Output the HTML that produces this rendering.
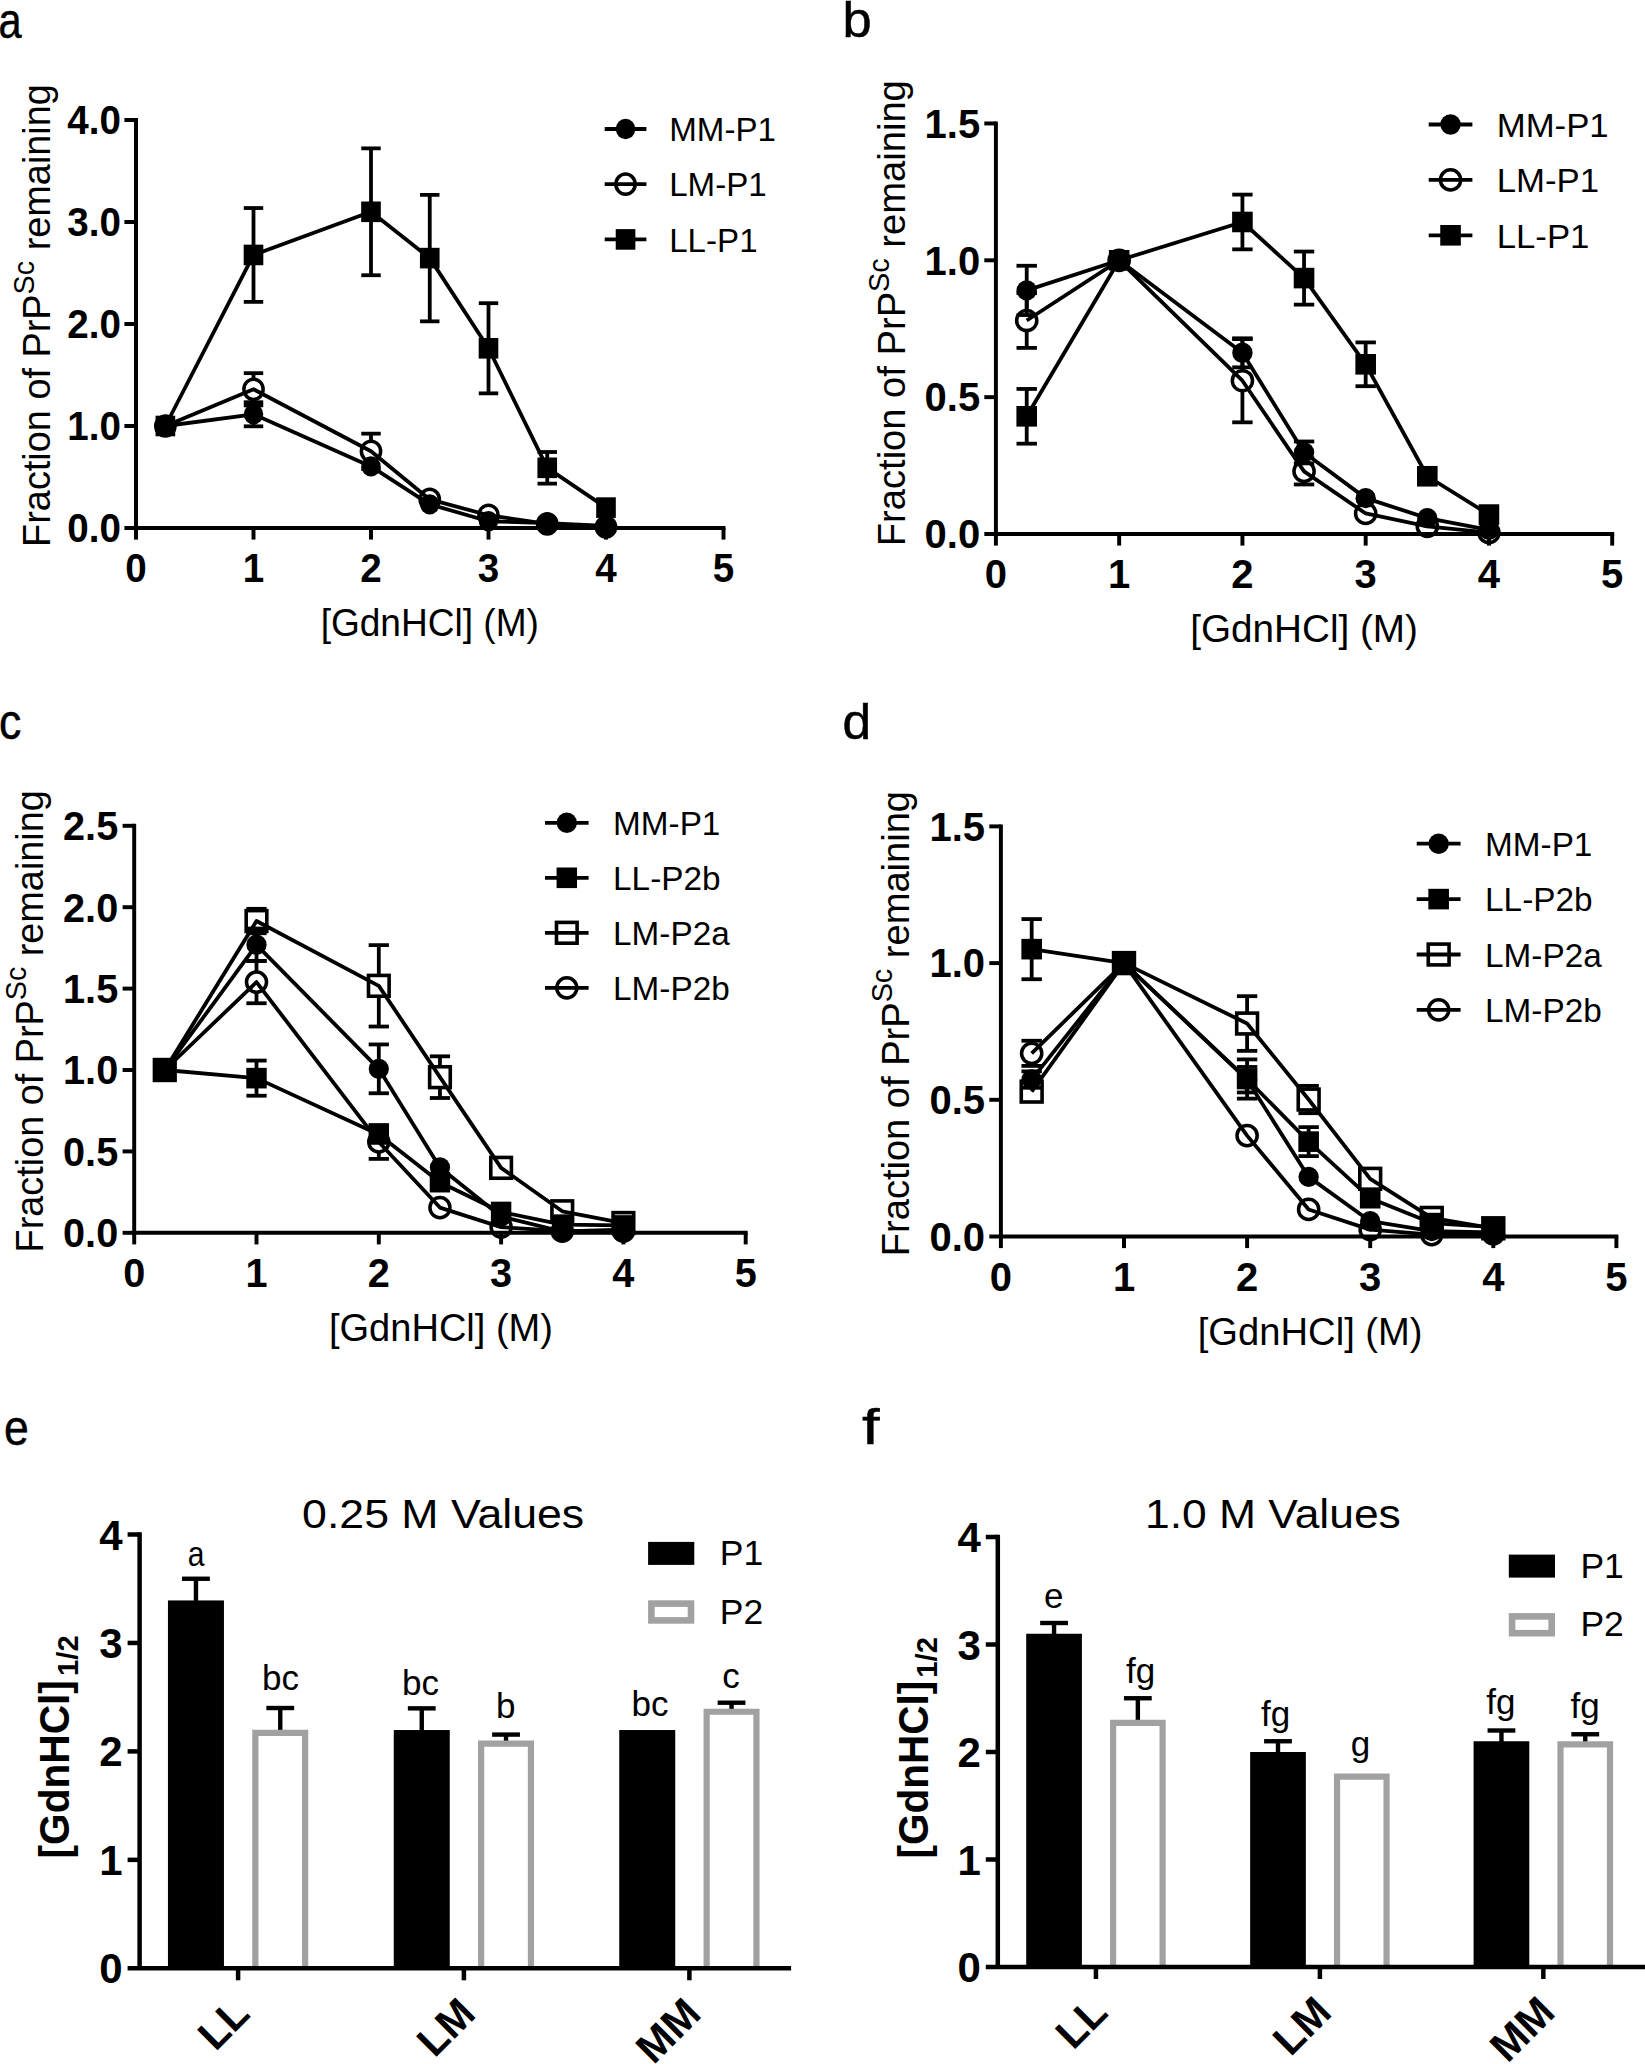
<!DOCTYPE html>
<html lang="en"><head><meta charset="utf-8"><title>Figure: GdnHCl stability of PrPSc</title>
<style>html,body{margin:0;padding:0;background:#fff;overflow:hidden}svg{display:block}text{font-family:"Liberation Sans", sans-serif;fill:#000}</style></head><body>
<svg width="1645" height="2064" viewBox="0 0 1645 2064">
<rect width="1645" height="2064" fill="#fff"/>
<g id="panel-a">
<path d="M165.38 426 L253.5 414.27 L371 466.39 L429.75 504.34 L488.5 521.27 L547.25 523.1 L606 525.96" fill="none" stroke="#000" stroke-width="3.8" stroke-linejoin="round"/>
<line x1="253.5" y1="402.23" x2="253.5" y2="426.31" stroke="#000" stroke-width="3.8"/>
<line x1="243.78" y1="402.23" x2="263.22" y2="402.23" stroke="#000" stroke-width="3.8"/>
<line x1="243.78" y1="426.31" x2="263.22" y2="426.31" stroke="#000" stroke-width="3.8"/>
<ellipse cx="165.38" cy="426" rx="9.72" ry="10.2" fill="#000"/>
<ellipse cx="253.5" cy="414.27" rx="9.72" ry="10.2" fill="#000"/>
<ellipse cx="371" cy="466.39" rx="9.72" ry="10.2" fill="#000"/>
<ellipse cx="429.75" cy="504.34" rx="9.72" ry="10.2" fill="#000"/>
<ellipse cx="488.5" cy="521.27" rx="9.72" ry="10.2" fill="#000"/>
<ellipse cx="547.25" cy="523.1" rx="9.72" ry="10.2" fill="#000"/>
<ellipse cx="606" cy="525.96" rx="9.72" ry="10.2" fill="#000"/>
<path d="M165.38 426 L253.5 389.28 L371 451.3 L429.75 499.44 L488.5 515.25 L547.25 523.92 L606 526.98" fill="none" stroke="#000" stroke-width="3.8" stroke-linejoin="round"/>
<line x1="253.5" y1="373.16" x2="253.5" y2="379.08" stroke="#000" stroke-width="3.8"/>
<line x1="253.5" y1="399.48" x2="253.5" y2="405.4" stroke="#000" stroke-width="3.8"/>
<line x1="243.78" y1="373.16" x2="263.22" y2="373.16" stroke="#000" stroke-width="3.8"/>
<line x1="243.78" y1="405.4" x2="263.22" y2="405.4" stroke="#000" stroke-width="3.8"/>
<line x1="371" y1="433.65" x2="371" y2="441.1" stroke="#000" stroke-width="3.8"/>
<line x1="371" y1="461.5" x2="371" y2="468.94" stroke="#000" stroke-width="3.8"/>
<line x1="361.28" y1="433.65" x2="380.72" y2="433.65" stroke="#000" stroke-width="3.8"/>
<line x1="361.28" y1="468.94" x2="380.72" y2="468.94" stroke="#000" stroke-width="3.8"/>
<ellipse cx="165.38" cy="426" rx="9.63" ry="10.1" fill="none" stroke="#000" stroke-width="3.5"/>
<ellipse cx="253.5" cy="389.28" rx="9.63" ry="10.1" fill="none" stroke="#000" stroke-width="3.5"/>
<ellipse cx="371" cy="451.3" rx="9.63" ry="10.1" fill="none" stroke="#000" stroke-width="3.5"/>
<ellipse cx="429.75" cy="499.44" rx="9.63" ry="10.1" fill="none" stroke="#000" stroke-width="3.5"/>
<ellipse cx="488.5" cy="515.25" rx="9.63" ry="10.1" fill="none" stroke="#000" stroke-width="3.5"/>
<ellipse cx="547.25" cy="523.92" rx="9.63" ry="10.1" fill="none" stroke="#000" stroke-width="3.5"/>
<ellipse cx="606" cy="526.98" rx="9.63" ry="10.1" fill="none" stroke="#000" stroke-width="3.5"/>
<path d="M165.38 426 L253.5 254.95 L371 211.8 L429.75 258.11 L488.5 348.28 L547.25 467.82 L606 507.6" fill="none" stroke="#000" stroke-width="3.8" stroke-linejoin="round"/>
<line x1="253.5" y1="208.03" x2="253.5" y2="301.87" stroke="#000" stroke-width="3.8"/>
<line x1="243.78" y1="208.03" x2="263.22" y2="208.03" stroke="#000" stroke-width="3.8"/>
<line x1="243.78" y1="301.87" x2="263.22" y2="301.87" stroke="#000" stroke-width="3.8"/>
<line x1="371" y1="148.36" x2="371" y2="275.24" stroke="#000" stroke-width="3.8"/>
<line x1="361.28" y1="148.36" x2="380.72" y2="148.36" stroke="#000" stroke-width="3.8"/>
<line x1="361.28" y1="275.24" x2="380.72" y2="275.24" stroke="#000" stroke-width="3.8"/>
<line x1="429.75" y1="194.87" x2="429.75" y2="321.35" stroke="#000" stroke-width="3.8"/>
<line x1="420.03" y1="194.87" x2="439.47" y2="194.87" stroke="#000" stroke-width="3.8"/>
<line x1="420.03" y1="321.35" x2="439.47" y2="321.35" stroke="#000" stroke-width="3.8"/>
<line x1="488.5" y1="303.19" x2="488.5" y2="393.36" stroke="#000" stroke-width="3.8"/>
<line x1="478.78" y1="303.19" x2="498.22" y2="303.19" stroke="#000" stroke-width="3.8"/>
<line x1="478.78" y1="393.36" x2="498.22" y2="393.36" stroke="#000" stroke-width="3.8"/>
<line x1="547.25" y1="452.01" x2="547.25" y2="483.63" stroke="#000" stroke-width="3.8"/>
<line x1="537.53" y1="452.01" x2="556.97" y2="452.01" stroke="#000" stroke-width="3.8"/>
<line x1="537.53" y1="483.63" x2="556.97" y2="483.63" stroke="#000" stroke-width="3.8"/>
<rect x="155.56" y="415.7" width="19.63" height="20.6" fill="#000"/>
<rect x="243.68" y="244.65" width="19.63" height="20.6" fill="#000"/>
<rect x="361.18" y="201.5" width="19.63" height="20.6" fill="#000"/>
<rect x="419.93" y="247.81" width="19.63" height="20.6" fill="#000"/>
<rect x="478.68" y="337.98" width="19.63" height="20.6" fill="#000"/>
<rect x="537.43" y="457.52" width="19.63" height="20.6" fill="#000"/>
<rect x="596.18" y="497.3" width="19.63" height="20.6" fill="#000"/>
<path d="M136 120 V528 H723.5" fill="none" stroke="#000" stroke-width="3.95" stroke-linecap="square" stroke-linejoin="miter"/>
<line x1="124.4" y1="528" x2="137.97" y2="528" stroke="#000" stroke-width="3.95"/>
<text transform="translate(121 542.3) scale(0.9650 1)" text-anchor="end" style='font-size:40px;font-weight:bold'>0.0</text>
<line x1="124.4" y1="426" x2="136" y2="426" stroke="#000" stroke-width="3.95"/>
<text transform="translate(121 440.3) scale(0.9650 1)" text-anchor="end" style='font-size:40px;font-weight:bold'>1.0</text>
<line x1="124.4" y1="324" x2="136" y2="324" stroke="#000" stroke-width="3.95"/>
<text transform="translate(121 338.3) scale(0.9650 1)" text-anchor="end" style='font-size:40px;font-weight:bold'>2.0</text>
<line x1="124.4" y1="222" x2="136" y2="222" stroke="#000" stroke-width="3.95"/>
<text transform="translate(121 236.3) scale(0.9650 1)" text-anchor="end" style='font-size:40px;font-weight:bold'>3.0</text>
<line x1="124.4" y1="120" x2="136" y2="120" stroke="#000" stroke-width="3.95"/>
<text transform="translate(121 134.3) scale(0.9650 1)" text-anchor="end" style='font-size:40px;font-weight:bold'>4.0</text>
<line x1="136" y1="528" x2="136" y2="539.6" stroke="#000" stroke-width="3.95"/>
<text transform="translate(136 582.4) scale(0.9650 1)" text-anchor="middle" style='font-size:40px;font-weight:bold'>0</text>
<line x1="253.5" y1="528" x2="253.5" y2="539.6" stroke="#000" stroke-width="3.95"/>
<text transform="translate(253.5 582.4) scale(0.9650 1)" text-anchor="middle" style='font-size:40px;font-weight:bold'>1</text>
<line x1="371" y1="528" x2="371" y2="539.6" stroke="#000" stroke-width="3.95"/>
<text transform="translate(371 582.4) scale(0.9650 1)" text-anchor="middle" style='font-size:40px;font-weight:bold'>2</text>
<line x1="488.5" y1="528" x2="488.5" y2="539.6" stroke="#000" stroke-width="3.95"/>
<text transform="translate(488.5 582.4) scale(0.9650 1)" text-anchor="middle" style='font-size:40px;font-weight:bold'>3</text>
<line x1="606" y1="528" x2="606" y2="539.6" stroke="#000" stroke-width="3.95"/>
<text transform="translate(606 582.4) scale(0.9650 1)" text-anchor="middle" style='font-size:40px;font-weight:bold'>4</text>
<line x1="723.5" y1="528" x2="723.5" y2="539.6" stroke="#000" stroke-width="3.95"/>
<text transform="translate(723.5 582.4) scale(0.9650 1)" text-anchor="middle" style='font-size:40px;font-weight:bold'>5</text>
<text transform="translate(429.75 636.1) scale(0.9580 1)" text-anchor="middle" style='font-size:38.7px'>[GdnHCl] (M)</text>
<text transform="translate(50.3 315.5) rotate(-90) scale(0.9968 1)" text-anchor="middle" style='font-size:38px'>Fraction of PrP<tspan dy="-15.9" style="font-size:28.8px">Sc</tspan><tspan dy="15.9"> remaining</tspan></text>
<line x1="604.7" y1="129" x2="646.4" y2="129" stroke="#000" stroke-width="3.8"/>
<ellipse cx="625.55" cy="129" rx="9.72" ry="10.2" fill="#000"/>
<text transform="translate(669.2 141.2) scale(0.9950 1)" text-anchor="start" style='font-size:33.3px'>MM-P1</text>
<line x1="604.7" y1="184.2" x2="646.4" y2="184.2" stroke="#000" stroke-width="3.8"/>
<ellipse cx="625.55" cy="184.2" rx="9.63" ry="10.1" fill="none" stroke="#000" stroke-width="3.5"/>
<text transform="translate(669.2 196.4) scale(0.9950 1)" text-anchor="start" style='font-size:33.3px'>LM-P1</text>
<line x1="604.7" y1="239.4" x2="646.4" y2="239.4" stroke="#000" stroke-width="3.8"/>
<rect x="615.73" y="229.1" width="19.63" height="20.6" fill="#000"/>
<text transform="translate(669.2 251.6) scale(0.9950 1)" text-anchor="start" style='font-size:33.3px'>LL-P1</text>
</g>
<g id="panel-b">
<path d="M1026.71 290.41 L1119.16 260.3 L1242.42 352.81 L1304.05 452.44 L1365.68 498.15 L1427.31 518.13 L1488.94 529.89" fill="none" stroke="#000" stroke-width="3.8" stroke-linejoin="round"/>
<line x1="1026.71" y1="265.77" x2="1026.71" y2="315.04" stroke="#000" stroke-width="3.8"/>
<line x1="1016.51" y1="265.77" x2="1036.91" y2="265.77" stroke="#000" stroke-width="3.8"/>
<line x1="1016.51" y1="315.04" x2="1036.91" y2="315.04" stroke="#000" stroke-width="3.8"/>
<line x1="1242.42" y1="338.3" x2="1242.42" y2="367.32" stroke="#000" stroke-width="3.8"/>
<line x1="1232.22" y1="338.3" x2="1252.62" y2="338.3" stroke="#000" stroke-width="3.8"/>
<line x1="1232.22" y1="367.32" x2="1252.62" y2="367.32" stroke="#000" stroke-width="3.8"/>
<line x1="1304.05" y1="441.49" x2="1304.05" y2="463.39" stroke="#000" stroke-width="3.8"/>
<line x1="1293.85" y1="441.49" x2="1314.25" y2="441.49" stroke="#000" stroke-width="3.8"/>
<line x1="1293.85" y1="463.39" x2="1314.25" y2="463.39" stroke="#000" stroke-width="3.8"/>
<ellipse cx="1026.71" cy="290.41" rx="10.2" ry="10.2" fill="#000"/>
<ellipse cx="1119.16" cy="260.3" rx="10.2" ry="10.2" fill="#000"/>
<ellipse cx="1242.42" cy="352.81" rx="10.2" ry="10.2" fill="#000"/>
<ellipse cx="1304.05" cy="452.44" rx="10.2" ry="10.2" fill="#000"/>
<ellipse cx="1365.68" cy="498.15" rx="10.2" ry="10.2" fill="#000"/>
<ellipse cx="1427.31" cy="518.13" rx="10.2" ry="10.2" fill="#000"/>
<ellipse cx="1488.94" cy="529.89" rx="10.2" ry="10.2" fill="#000"/>
<path d="M1026.71 320.51 L1119.16 260.3 L1242.42 380.73 L1304.05 471.32 L1365.68 513.47 L1427.31 526.34 L1488.94 532.63" fill="none" stroke="#000" stroke-width="3.8" stroke-linejoin="round"/>
<line x1="1026.71" y1="293.14" x2="1026.71" y2="310.31" stroke="#000" stroke-width="3.8"/>
<line x1="1026.71" y1="330.71" x2="1026.71" y2="347.88" stroke="#000" stroke-width="3.8"/>
<line x1="1016.51" y1="293.14" x2="1036.91" y2="293.14" stroke="#000" stroke-width="3.8"/>
<line x1="1016.51" y1="347.88" x2="1036.91" y2="347.88" stroke="#000" stroke-width="3.8"/>
<line x1="1242.42" y1="339.13" x2="1242.42" y2="370.53" stroke="#000" stroke-width="3.8"/>
<line x1="1242.42" y1="390.93" x2="1242.42" y2="422.33" stroke="#000" stroke-width="3.8"/>
<line x1="1232.22" y1="339.13" x2="1252.62" y2="339.13" stroke="#000" stroke-width="3.8"/>
<line x1="1232.22" y1="422.33" x2="1252.62" y2="422.33" stroke="#000" stroke-width="3.8"/>
<line x1="1304.05" y1="458.19" x2="1304.05" y2="461.12" stroke="#000" stroke-width="3.8"/>
<line x1="1304.05" y1="481.52" x2="1304.05" y2="484.46" stroke="#000" stroke-width="3.8"/>
<line x1="1293.85" y1="458.19" x2="1314.25" y2="458.19" stroke="#000" stroke-width="3.8"/>
<line x1="1293.85" y1="484.46" x2="1314.25" y2="484.46" stroke="#000" stroke-width="3.8"/>
<ellipse cx="1026.71" cy="320.51" rx="10.1" ry="10.1" fill="none" stroke="#000" stroke-width="3.5"/>
<ellipse cx="1119.16" cy="260.3" rx="10.1" ry="10.1" fill="none" stroke="#000" stroke-width="3.5"/>
<ellipse cx="1242.42" cy="380.73" rx="10.1" ry="10.1" fill="none" stroke="#000" stroke-width="3.5"/>
<ellipse cx="1304.05" cy="471.32" rx="10.1" ry="10.1" fill="none" stroke="#000" stroke-width="3.5"/>
<ellipse cx="1365.68" cy="513.47" rx="10.1" ry="10.1" fill="none" stroke="#000" stroke-width="3.5"/>
<ellipse cx="1427.31" cy="526.34" rx="10.1" ry="10.1" fill="none" stroke="#000" stroke-width="3.5"/>
<ellipse cx="1488.94" cy="532.63" rx="10.1" ry="10.1" fill="none" stroke="#000" stroke-width="3.5"/>
<path d="M1026.71 416.31 L1119.16 260.3 L1242.42 221.98 L1304.05 278.09 L1365.68 364.31 L1427.31 476.25 L1488.94 514.57" fill="none" stroke="#000" stroke-width="3.8" stroke-linejoin="round"/>
<line x1="1026.71" y1="388.94" x2="1026.71" y2="443.68" stroke="#000" stroke-width="3.8"/>
<line x1="1016.51" y1="388.94" x2="1036.91" y2="388.94" stroke="#000" stroke-width="3.8"/>
<line x1="1016.51" y1="443.68" x2="1036.91" y2="443.68" stroke="#000" stroke-width="3.8"/>
<line x1="1242.42" y1="194.61" x2="1242.42" y2="249.35" stroke="#000" stroke-width="3.8"/>
<line x1="1232.22" y1="194.61" x2="1252.62" y2="194.61" stroke="#000" stroke-width="3.8"/>
<line x1="1232.22" y1="249.35" x2="1252.62" y2="249.35" stroke="#000" stroke-width="3.8"/>
<line x1="1304.05" y1="251.54" x2="1304.05" y2="304.64" stroke="#000" stroke-width="3.8"/>
<line x1="1293.85" y1="251.54" x2="1314.25" y2="251.54" stroke="#000" stroke-width="3.8"/>
<line x1="1293.85" y1="304.64" x2="1314.25" y2="304.64" stroke="#000" stroke-width="3.8"/>
<line x1="1365.68" y1="342.41" x2="1365.68" y2="386.2" stroke="#000" stroke-width="3.8"/>
<line x1="1355.48" y1="342.41" x2="1375.88" y2="342.41" stroke="#000" stroke-width="3.8"/>
<line x1="1355.48" y1="386.2" x2="1375.88" y2="386.2" stroke="#000" stroke-width="3.8"/>
<rect x="1016.41" y="406.01" width="20.6" height="20.6" fill="#000"/>
<rect x="1108.86" y="250" width="20.6" height="20.6" fill="#000"/>
<rect x="1232.12" y="211.68" width="20.6" height="20.6" fill="#000"/>
<rect x="1293.75" y="267.79" width="20.6" height="20.6" fill="#000"/>
<rect x="1355.38" y="354.01" width="20.6" height="20.6" fill="#000"/>
<rect x="1417.01" y="465.95" width="20.6" height="20.6" fill="#000"/>
<rect x="1478.64" y="504.27" width="20.6" height="20.6" fill="#000"/>
<path d="M995.9 123.45 V534 H1612.2" fill="none" stroke="#000" stroke-width="3.95" stroke-linecap="square" stroke-linejoin="miter"/>
<line x1="984.3" y1="534" x2="997.88" y2="534" stroke="#000" stroke-width="3.95"/>
<text transform="translate(980.2 548.3)" text-anchor="end" style='font-size:40px;font-weight:bold'>0.0</text>
<line x1="984.3" y1="397.15" x2="995.9" y2="397.15" stroke="#000" stroke-width="3.95"/>
<text transform="translate(980.2 411.45)" text-anchor="end" style='font-size:40px;font-weight:bold'>0.5</text>
<line x1="984.3" y1="260.3" x2="995.9" y2="260.3" stroke="#000" stroke-width="3.95"/>
<text transform="translate(980.2 274.6)" text-anchor="end" style='font-size:40px;font-weight:bold'>1.0</text>
<line x1="984.3" y1="123.45" x2="995.9" y2="123.45" stroke="#000" stroke-width="3.95"/>
<text transform="translate(980.2 137.75)" text-anchor="end" style='font-size:40px;font-weight:bold'>1.5</text>
<line x1="995.9" y1="534" x2="995.9" y2="545.6" stroke="#000" stroke-width="3.95"/>
<text transform="translate(995.9 588.4)" text-anchor="middle" style='font-size:40px;font-weight:bold'>0</text>
<line x1="1119.16" y1="534" x2="1119.16" y2="545.6" stroke="#000" stroke-width="3.95"/>
<text transform="translate(1119.16 588.4)" text-anchor="middle" style='font-size:40px;font-weight:bold'>1</text>
<line x1="1242.42" y1="534" x2="1242.42" y2="545.6" stroke="#000" stroke-width="3.95"/>
<text transform="translate(1242.42 588.4)" text-anchor="middle" style='font-size:40px;font-weight:bold'>2</text>
<line x1="1365.68" y1="534" x2="1365.68" y2="545.6" stroke="#000" stroke-width="3.95"/>
<text transform="translate(1365.68 588.4)" text-anchor="middle" style='font-size:40px;font-weight:bold'>3</text>
<line x1="1488.94" y1="534" x2="1488.94" y2="545.6" stroke="#000" stroke-width="3.95"/>
<text transform="translate(1488.94 588.4)" text-anchor="middle" style='font-size:40px;font-weight:bold'>4</text>
<line x1="1612.2" y1="534" x2="1612.2" y2="545.6" stroke="#000" stroke-width="3.95"/>
<text transform="translate(1612.2 588.4)" text-anchor="middle" style='font-size:40px;font-weight:bold'>5</text>
<text transform="translate(1304.05 642.1)" text-anchor="middle" style='font-size:38.7px'>[GdnHCl] (M)</text>
<text transform="translate(905.3 313.2) rotate(-90) scale(0.9859 1)" text-anchor="middle" style='font-size:38.7px'>Fraction of PrP<tspan dy="-16.2" style="font-size:29.3px">Sc</tspan><tspan dy="16.2"> remaining</tspan></text>
<line x1="1428.7" y1="124.5" x2="1472.4" y2="124.5" stroke="#000" stroke-width="3.8"/>
<ellipse cx="1450.55" cy="124.5" rx="10.2" ry="10.2" fill="#000"/>
<text transform="translate(1496.7 136.7) scale(1.0440 1)" text-anchor="start" style='font-size:33.3px'>MM-P1</text>
<line x1="1428.7" y1="179.9" x2="1472.4" y2="179.9" stroke="#000" stroke-width="3.8"/>
<ellipse cx="1450.55" cy="179.9" rx="10.1" ry="10.1" fill="none" stroke="#000" stroke-width="3.5"/>
<text transform="translate(1496.7 192.1) scale(1.0440 1)" text-anchor="start" style='font-size:33.3px'>LM-P1</text>
<line x1="1428.7" y1="235.3" x2="1472.4" y2="235.3" stroke="#000" stroke-width="3.8"/>
<rect x="1440.25" y="225" width="20.6" height="20.6" fill="#000"/>
<text transform="translate(1496.7 247.5) scale(1.0440 1)" text-anchor="start" style='font-size:33.3px'>LL-P1</text>
</g>
<g id="panel-c">
<path d="M164.77 1070 L256.5 944.81 L378.8 1068.86 L439.95 1167.52 L501.1 1216.52 L562.25 1231.5 L623.4 1229.54" fill="none" stroke="#000" stroke-width="3.8" stroke-linejoin="round"/>
<line x1="256.5" y1="928.53" x2="256.5" y2="961.09" stroke="#000" stroke-width="3.8"/>
<line x1="246.38" y1="928.53" x2="266.62" y2="928.53" stroke="#000" stroke-width="3.8"/>
<line x1="246.38" y1="961.09" x2="266.62" y2="961.09" stroke="#000" stroke-width="3.8"/>
<line x1="378.8" y1="1044.44" x2="378.8" y2="1093.28" stroke="#000" stroke-width="3.8"/>
<line x1="368.68" y1="1044.44" x2="388.92" y2="1044.44" stroke="#000" stroke-width="3.8"/>
<line x1="368.68" y1="1093.28" x2="388.92" y2="1093.28" stroke="#000" stroke-width="3.8"/>
<ellipse cx="164.77" cy="1070" rx="10.12" ry="10.2" fill="#000"/>
<ellipse cx="256.5" cy="944.81" rx="10.12" ry="10.2" fill="#000"/>
<ellipse cx="378.8" cy="1068.86" rx="10.12" ry="10.2" fill="#000"/>
<ellipse cx="439.95" cy="1167.52" rx="10.12" ry="10.2" fill="#000"/>
<ellipse cx="501.1" cy="1216.52" rx="10.12" ry="10.2" fill="#000"/>
<ellipse cx="562.25" cy="1231.5" rx="10.12" ry="10.2" fill="#000"/>
<ellipse cx="623.4" cy="1229.54" rx="10.12" ry="10.2" fill="#000"/>
<path d="M164.77 1070 L256.5 1078.14 L378.8 1134.47 L439.95 1182.17 L501.1 1211.96 L562.25 1224.66 L623.4 1225.47" fill="none" stroke="#000" stroke-width="3.8" stroke-linejoin="round"/>
<line x1="256.5" y1="1060.56" x2="256.5" y2="1095.72" stroke="#000" stroke-width="3.8"/>
<line x1="246.38" y1="1060.56" x2="266.62" y2="1060.56" stroke="#000" stroke-width="3.8"/>
<line x1="246.38" y1="1095.72" x2="266.62" y2="1095.72" stroke="#000" stroke-width="3.8"/>
<rect x="154.56" y="1059.7" width="20.44" height="20.6" fill="#000"/>
<rect x="246.28" y="1067.84" width="20.44" height="20.6" fill="#000"/>
<rect x="368.58" y="1124.17" width="20.44" height="20.6" fill="#000"/>
<rect x="429.73" y="1171.87" width="20.44" height="20.6" fill="#000"/>
<rect x="490.88" y="1201.66" width="20.44" height="20.6" fill="#000"/>
<rect x="552.03" y="1214.36" width="20.44" height="20.6" fill="#000"/>
<rect x="613.18" y="1215.17" width="20.44" height="20.6" fill="#000"/>
<path d="M164.77 1070 L256.5 921.04 L378.8 985.83 L439.95 1077.16 L501.1 1167.84 L562.25 1211.31 L623.4 1223.03" fill="none" stroke="#000" stroke-width="3.8" stroke-linejoin="round"/>
<line x1="256.5" y1="908.83" x2="256.5" y2="910.84" stroke="#000" stroke-width="3.8"/>
<line x1="256.5" y1="931.24" x2="256.5" y2="933.25" stroke="#000" stroke-width="3.8"/>
<line x1="246.38" y1="908.83" x2="266.62" y2="908.83" stroke="#000" stroke-width="3.8"/>
<line x1="246.38" y1="933.25" x2="266.62" y2="933.25" stroke="#000" stroke-width="3.8"/>
<line x1="378.8" y1="945.13" x2="378.8" y2="975.63" stroke="#000" stroke-width="3.8"/>
<line x1="378.8" y1="996.03" x2="378.8" y2="1026.53" stroke="#000" stroke-width="3.8"/>
<line x1="368.68" y1="945.13" x2="388.92" y2="945.13" stroke="#000" stroke-width="3.8"/>
<line x1="368.68" y1="1026.53" x2="388.92" y2="1026.53" stroke="#000" stroke-width="3.8"/>
<line x1="439.95" y1="1056.32" x2="439.95" y2="1066.96" stroke="#000" stroke-width="3.8"/>
<line x1="439.95" y1="1087.36" x2="439.95" y2="1098" stroke="#000" stroke-width="3.8"/>
<line x1="429.83" y1="1056.32" x2="450.07" y2="1056.32" stroke="#000" stroke-width="3.8"/>
<line x1="429.83" y1="1098" x2="450.07" y2="1098" stroke="#000" stroke-width="3.8"/>
<rect x="154.46" y="1059.6" width="20.63" height="20.8" fill="none" stroke="#000" stroke-width="3.6"/>
<rect x="246.18" y="910.64" width="20.63" height="20.8" fill="none" stroke="#000" stroke-width="3.6"/>
<rect x="368.48" y="975.43" width="20.63" height="20.8" fill="none" stroke="#000" stroke-width="3.6"/>
<rect x="429.63" y="1066.76" width="20.63" height="20.8" fill="none" stroke="#000" stroke-width="3.6"/>
<rect x="490.78" y="1157.44" width="20.63" height="20.8" fill="none" stroke="#000" stroke-width="3.6"/>
<rect x="551.93" y="1200.91" width="20.63" height="20.8" fill="none" stroke="#000" stroke-width="3.6"/>
<rect x="613.08" y="1212.63" width="20.63" height="20.8" fill="none" stroke="#000" stroke-width="3.6"/>
<path d="M164.77 1070 L256.5 982.09 L378.8 1141.96 L439.95 1207.57 L501.1 1227.1 L562.25 1231.17 L623.4 1231.17" fill="none" stroke="#000" stroke-width="3.8" stroke-linejoin="round"/>
<line x1="256.5" y1="960.92" x2="256.5" y2="971.89" stroke="#000" stroke-width="3.8"/>
<line x1="256.5" y1="992.29" x2="256.5" y2="1003.25" stroke="#000" stroke-width="3.8"/>
<line x1="246.38" y1="960.92" x2="266.62" y2="960.92" stroke="#000" stroke-width="3.8"/>
<line x1="246.38" y1="1003.25" x2="266.62" y2="1003.25" stroke="#000" stroke-width="3.8"/>
<line x1="378.8" y1="1125.03" x2="378.8" y2="1131.76" stroke="#000" stroke-width="3.8"/>
<line x1="378.8" y1="1152.16" x2="378.8" y2="1158.89" stroke="#000" stroke-width="3.8"/>
<line x1="368.68" y1="1125.03" x2="388.92" y2="1125.03" stroke="#000" stroke-width="3.8"/>
<line x1="368.68" y1="1158.89" x2="388.92" y2="1158.89" stroke="#000" stroke-width="3.8"/>
<ellipse cx="164.77" cy="1070" rx="10.02" ry="10.1" fill="none" stroke="#000" stroke-width="3.5"/>
<ellipse cx="256.5" cy="982.09" rx="10.02" ry="10.1" fill="none" stroke="#000" stroke-width="3.5"/>
<ellipse cx="378.8" cy="1141.96" rx="10.02" ry="10.1" fill="none" stroke="#000" stroke-width="3.5"/>
<ellipse cx="439.95" cy="1207.57" rx="10.02" ry="10.1" fill="none" stroke="#000" stroke-width="3.5"/>
<ellipse cx="501.1" cy="1227.1" rx="10.02" ry="10.1" fill="none" stroke="#000" stroke-width="3.5"/>
<ellipse cx="562.25" cy="1231.17" rx="10.02" ry="10.1" fill="none" stroke="#000" stroke-width="3.5"/>
<ellipse cx="623.4" cy="1231.17" rx="10.02" ry="10.1" fill="none" stroke="#000" stroke-width="3.5"/>
<path d="M134.2 825.8 V1232.8 H745.7" fill="none" stroke="#000" stroke-width="3.95" stroke-linecap="square" stroke-linejoin="miter"/>
<line x1="122.6" y1="1232.8" x2="136.17" y2="1232.8" stroke="#000" stroke-width="3.95"/>
<text transform="translate(118.2 1247.1) scale(0.9920 1)" text-anchor="end" style='font-size:40px;font-weight:bold'>0.0</text>
<line x1="122.6" y1="1151.4" x2="134.2" y2="1151.4" stroke="#000" stroke-width="3.95"/>
<text transform="translate(118.2 1165.7) scale(0.9920 1)" text-anchor="end" style='font-size:40px;font-weight:bold'>0.5</text>
<line x1="122.6" y1="1070" x2="134.2" y2="1070" stroke="#000" stroke-width="3.95"/>
<text transform="translate(118.2 1084.3) scale(0.9920 1)" text-anchor="end" style='font-size:40px;font-weight:bold'>1.0</text>
<line x1="122.6" y1="988.6" x2="134.2" y2="988.6" stroke="#000" stroke-width="3.95"/>
<text transform="translate(118.2 1002.9) scale(0.9920 1)" text-anchor="end" style='font-size:40px;font-weight:bold'>1.5</text>
<line x1="122.6" y1="907.2" x2="134.2" y2="907.2" stroke="#000" stroke-width="3.95"/>
<text transform="translate(118.2 921.5) scale(0.9920 1)" text-anchor="end" style='font-size:40px;font-weight:bold'>2.0</text>
<line x1="122.6" y1="825.8" x2="134.2" y2="825.8" stroke="#000" stroke-width="3.95"/>
<text transform="translate(118.2 840.1) scale(0.9920 1)" text-anchor="end" style='font-size:40px;font-weight:bold'>2.5</text>
<line x1="134.2" y1="1232.8" x2="134.2" y2="1244.4" stroke="#000" stroke-width="3.95"/>
<text transform="translate(134.2 1287.2) scale(0.9920 1)" text-anchor="middle" style='font-size:40px;font-weight:bold'>0</text>
<line x1="256.5" y1="1232.8" x2="256.5" y2="1244.4" stroke="#000" stroke-width="3.95"/>
<text transform="translate(256.5 1287.2) scale(0.9920 1)" text-anchor="middle" style='font-size:40px;font-weight:bold'>1</text>
<line x1="378.8" y1="1232.8" x2="378.8" y2="1244.4" stroke="#000" stroke-width="3.95"/>
<text transform="translate(378.8 1287.2) scale(0.9920 1)" text-anchor="middle" style='font-size:40px;font-weight:bold'>2</text>
<line x1="501.1" y1="1232.8" x2="501.1" y2="1244.4" stroke="#000" stroke-width="3.95"/>
<text transform="translate(501.1 1287.2) scale(0.9920 1)" text-anchor="middle" style='font-size:40px;font-weight:bold'>3</text>
<line x1="623.4" y1="1232.8" x2="623.4" y2="1244.4" stroke="#000" stroke-width="3.95"/>
<text transform="translate(623.4 1287.2) scale(0.9920 1)" text-anchor="middle" style='font-size:40px;font-weight:bold'>4</text>
<line x1="745.7" y1="1232.8" x2="745.7" y2="1244.4" stroke="#000" stroke-width="3.95"/>
<text transform="translate(745.7 1287.2) scale(0.9920 1)" text-anchor="middle" style='font-size:40px;font-weight:bold'>5</text>
<text transform="translate(440.95 1340.9) scale(0.9830 1)" text-anchor="middle" style='font-size:38.7px'>[GdnHCl] (M)</text>
<text transform="translate(43.4 1021.3) rotate(-90) scale(0.9775 1)" text-anchor="middle" style='font-size:38.7px'>Fraction of PrP<tspan dy="-17.5" style="font-size:29.3px">Sc</tspan><tspan dy="17.5"> remaining</tspan></text>
<line x1="545" y1="822.8" x2="588.6" y2="822.8" stroke="#000" stroke-width="3.8"/>
<ellipse cx="566.8" cy="822.8" rx="10.12" ry="10.2" fill="#000"/>
<text transform="translate(613.1 835)" text-anchor="start" style='font-size:33.3px'>MM-P1</text>
<line x1="545" y1="877.8" x2="588.6" y2="877.8" stroke="#000" stroke-width="3.8"/>
<rect x="556.58" y="867.5" width="20.44" height="20.6" fill="#000"/>
<text transform="translate(613.1 890)" text-anchor="start" style='font-size:33.3px'>LL-P2b</text>
<line x1="545" y1="932.8" x2="588.6" y2="932.8" stroke="#000" stroke-width="3.8"/>
<rect x="556.48" y="922.4" width="20.63" height="20.8" fill="none" stroke="#000" stroke-width="3.6"/>
<text transform="translate(613.1 945)" text-anchor="start" style='font-size:33.3px'>LM-P2a</text>
<line x1="545" y1="987.8" x2="588.6" y2="987.8" stroke="#000" stroke-width="3.8"/>
<ellipse cx="566.8" cy="987.8" rx="10.02" ry="10.1" fill="none" stroke="#000" stroke-width="3.5"/>
<text transform="translate(613.1 1000)" text-anchor="start" style='font-size:33.3px'>LM-P2b</text>
</g>
<g id="panel-d">
<path d="M1031.67 1079.57 L1124 963.1 L1247.1 1079.71 L1308.65 1176.9 L1370.2 1221.19 L1431.75 1231.03 L1493.3 1232.4" fill="none" stroke="#000" stroke-width="3.8" stroke-linejoin="round"/>
<line x1="1031.67" y1="1071.37" x2="1031.67" y2="1087.77" stroke="#000" stroke-width="3.8"/>
<line x1="1021.47" y1="1071.37" x2="1041.88" y2="1071.37" stroke="#000" stroke-width="3.8"/>
<line x1="1021.47" y1="1087.77" x2="1041.88" y2="1087.77" stroke="#000" stroke-width="3.8"/>
<line x1="1247.1" y1="1066.96" x2="1247.1" y2="1092.45" stroke="#000" stroke-width="3.8"/>
<line x1="1236.9" y1="1066.96" x2="1257.3" y2="1066.96" stroke="#000" stroke-width="3.8"/>
<line x1="1236.9" y1="1092.45" x2="1257.3" y2="1092.45" stroke="#000" stroke-width="3.8"/>
<ellipse cx="1031.67" cy="1079.57" rx="10.2" ry="10.2" fill="#000"/>
<ellipse cx="1124" cy="963.1" rx="10.2" ry="10.2" fill="#000"/>
<ellipse cx="1247.1" cy="1079.71" rx="10.2" ry="10.2" fill="#000"/>
<ellipse cx="1308.65" cy="1176.9" rx="10.2" ry="10.2" fill="#000"/>
<ellipse cx="1370.2" cy="1221.19" rx="10.2" ry="10.2" fill="#000"/>
<ellipse cx="1431.75" cy="1231.03" rx="10.2" ry="10.2" fill="#000"/>
<ellipse cx="1493.3" cy="1232.4" rx="10.2" ry="10.2" fill="#000"/>
<path d="M1031.67 949.16 L1124 963.1 L1247.1 1079.02 L1308.65 1141.63 L1370.2 1198.22 L1431.75 1223.1 L1493.3 1227.2" fill="none" stroke="#000" stroke-width="3.8" stroke-linejoin="round"/>
<line x1="1031.67" y1="919.08" x2="1031.67" y2="979.23" stroke="#000" stroke-width="3.8"/>
<line x1="1021.47" y1="919.08" x2="1041.88" y2="919.08" stroke="#000" stroke-width="3.8"/>
<line x1="1021.47" y1="979.23" x2="1041.88" y2="979.23" stroke="#000" stroke-width="3.8"/>
<line x1="1247.1" y1="1059.42" x2="1247.1" y2="1098.62" stroke="#000" stroke-width="3.8"/>
<line x1="1236.9" y1="1059.42" x2="1257.3" y2="1059.42" stroke="#000" stroke-width="3.8"/>
<line x1="1236.9" y1="1098.62" x2="1257.3" y2="1098.62" stroke="#000" stroke-width="3.8"/>
<line x1="1308.65" y1="1127.14" x2="1308.65" y2="1156.12" stroke="#000" stroke-width="3.8"/>
<line x1="1298.45" y1="1127.14" x2="1318.85" y2="1127.14" stroke="#000" stroke-width="3.8"/>
<line x1="1298.45" y1="1156.12" x2="1318.85" y2="1156.12" stroke="#000" stroke-width="3.8"/>
<rect x="1021.38" y="938.86" width="20.6" height="20.6" fill="#000"/>
<rect x="1113.7" y="952.8" width="20.6" height="20.6" fill="#000"/>
<rect x="1236.8" y="1068.72" width="20.6" height="20.6" fill="#000"/>
<rect x="1298.35" y="1131.33" width="20.6" height="20.6" fill="#000"/>
<rect x="1359.9" y="1187.92" width="20.6" height="20.6" fill="#000"/>
<rect x="1421.45" y="1212.8" width="20.6" height="20.6" fill="#000"/>
<rect x="1483" y="1216.9" width="20.6" height="20.6" fill="#000"/>
<path d="M1031.67 1091.6 L1124 963.1 L1247.1 1023.52 L1308.65 1099.53 L1370.2 1178.81 L1431.75 1217.91 L1493.3 1228.3" fill="none" stroke="#000" stroke-width="3.8" stroke-linejoin="round"/>
<line x1="1247.1" y1="996.18" x2="1247.1" y2="1013.32" stroke="#000" stroke-width="3.8"/>
<line x1="1247.1" y1="1033.72" x2="1247.1" y2="1050.86" stroke="#000" stroke-width="3.8"/>
<line x1="1236.9" y1="996.18" x2="1257.3" y2="996.18" stroke="#000" stroke-width="3.8"/>
<line x1="1236.9" y1="1050.86" x2="1257.3" y2="1050.86" stroke="#000" stroke-width="3.8"/>
<line x1="1308.65" y1="1085.86" x2="1308.65" y2="1089.33" stroke="#000" stroke-width="3.8"/>
<line x1="1308.65" y1="1109.73" x2="1308.65" y2="1113.2" stroke="#000" stroke-width="3.8"/>
<line x1="1298.45" y1="1085.86" x2="1318.85" y2="1085.86" stroke="#000" stroke-width="3.8"/>
<line x1="1298.45" y1="1113.2" x2="1318.85" y2="1113.2" stroke="#000" stroke-width="3.8"/>
<rect x="1021.27" y="1081.2" width="20.8" height="20.8" fill="none" stroke="#000" stroke-width="3.6"/>
<rect x="1113.6" y="952.7" width="20.8" height="20.8" fill="none" stroke="#000" stroke-width="3.6"/>
<rect x="1236.7" y="1013.12" width="20.8" height="20.8" fill="none" stroke="#000" stroke-width="3.6"/>
<rect x="1298.25" y="1089.13" width="20.8" height="20.8" fill="none" stroke="#000" stroke-width="3.6"/>
<rect x="1359.8" y="1168.41" width="20.8" height="20.8" fill="none" stroke="#000" stroke-width="3.6"/>
<rect x="1421.35" y="1207.51" width="20.8" height="20.8" fill="none" stroke="#000" stroke-width="3.6"/>
<rect x="1482.9" y="1217.9" width="20.8" height="20.8" fill="none" stroke="#000" stroke-width="3.6"/>
<path d="M1031.67 1053.32 L1124 963.1 L1247.1 1135.62 L1308.65 1209.43 L1370.2 1229.66 L1431.75 1234.59 L1493.3 1233.77" fill="none" stroke="#000" stroke-width="3.8" stroke-linejoin="round"/>
<line x1="1031.67" y1="1040.75" x2="1031.67" y2="1043.12" stroke="#000" stroke-width="3.8"/>
<line x1="1031.67" y1="1063.52" x2="1031.67" y2="1065.9" stroke="#000" stroke-width="3.8"/>
<line x1="1021.47" y1="1040.75" x2="1041.88" y2="1040.75" stroke="#000" stroke-width="3.8"/>
<line x1="1021.47" y1="1065.9" x2="1041.88" y2="1065.9" stroke="#000" stroke-width="3.8"/>
<ellipse cx="1031.67" cy="1053.32" rx="10.1" ry="10.1" fill="none" stroke="#000" stroke-width="3.5"/>
<ellipse cx="1124" cy="963.1" rx="10.1" ry="10.1" fill="none" stroke="#000" stroke-width="3.5"/>
<ellipse cx="1247.1" cy="1135.62" rx="10.1" ry="10.1" fill="none" stroke="#000" stroke-width="3.5"/>
<ellipse cx="1308.65" cy="1209.43" rx="10.1" ry="10.1" fill="none" stroke="#000" stroke-width="3.5"/>
<ellipse cx="1370.2" cy="1229.66" rx="10.1" ry="10.1" fill="none" stroke="#000" stroke-width="3.5"/>
<ellipse cx="1431.75" cy="1234.59" rx="10.1" ry="10.1" fill="none" stroke="#000" stroke-width="3.5"/>
<ellipse cx="1493.3" cy="1233.77" rx="10.1" ry="10.1" fill="none" stroke="#000" stroke-width="3.5"/>
<path d="M1000.9 826.4 V1236.5 H1616.4" fill="none" stroke="#000" stroke-width="3.95" stroke-linecap="square" stroke-linejoin="miter"/>
<line x1="989.3" y1="1236.5" x2="1002.88" y2="1236.5" stroke="#000" stroke-width="3.95"/>
<text transform="translate(985.1 1250.8)" text-anchor="end" style='font-size:40px;font-weight:bold'>0.0</text>
<line x1="989.3" y1="1099.8" x2="1000.9" y2="1099.8" stroke="#000" stroke-width="3.95"/>
<text transform="translate(985.1 1114.1)" text-anchor="end" style='font-size:40px;font-weight:bold'>0.5</text>
<line x1="989.3" y1="963.1" x2="1000.9" y2="963.1" stroke="#000" stroke-width="3.95"/>
<text transform="translate(985.1 977.4)" text-anchor="end" style='font-size:40px;font-weight:bold'>1.0</text>
<line x1="989.3" y1="826.4" x2="1000.9" y2="826.4" stroke="#000" stroke-width="3.95"/>
<text transform="translate(985.1 840.7)" text-anchor="end" style='font-size:40px;font-weight:bold'>1.5</text>
<line x1="1000.9" y1="1236.5" x2="1000.9" y2="1248.1" stroke="#000" stroke-width="3.95"/>
<text transform="translate(1000.9 1290.9)" text-anchor="middle" style='font-size:40px;font-weight:bold'>0</text>
<line x1="1124" y1="1236.5" x2="1124" y2="1248.1" stroke="#000" stroke-width="3.95"/>
<text transform="translate(1124 1290.9)" text-anchor="middle" style='font-size:40px;font-weight:bold'>1</text>
<line x1="1247.1" y1="1236.5" x2="1247.1" y2="1248.1" stroke="#000" stroke-width="3.95"/>
<text transform="translate(1247.1 1290.9)" text-anchor="middle" style='font-size:40px;font-weight:bold'>2</text>
<line x1="1370.2" y1="1236.5" x2="1370.2" y2="1248.1" stroke="#000" stroke-width="3.95"/>
<text transform="translate(1370.2 1290.9)" text-anchor="middle" style='font-size:40px;font-weight:bold'>3</text>
<line x1="1493.3" y1="1236.5" x2="1493.3" y2="1248.1" stroke="#000" stroke-width="3.95"/>
<text transform="translate(1493.3 1290.9)" text-anchor="middle" style='font-size:40px;font-weight:bold'>4</text>
<line x1="1616.4" y1="1236.5" x2="1616.4" y2="1248.1" stroke="#000" stroke-width="3.95"/>
<text transform="translate(1616.4 1290.9)" text-anchor="middle" style='font-size:40px;font-weight:bold'>5</text>
<text transform="translate(1310.15 1344.6) scale(0.9870 1)" text-anchor="middle" style='font-size:38.7px'>[GdnHCl] (M)</text>
<text transform="translate(909.3 1023.6) rotate(-90) scale(0.9842 1)" text-anchor="middle" style='font-size:38.7px'>Fraction of PrP<tspan dy="-17.2" style="font-size:29.3px">Sc</tspan><tspan dy="17.2"> remaining</tspan></text>
<line x1="1416.7" y1="843.7" x2="1460.6" y2="843.7" stroke="#000" stroke-width="3.8"/>
<ellipse cx="1438.65" cy="843.7" rx="10.2" ry="10.2" fill="#000"/>
<text transform="translate(1485.1 855.9)" text-anchor="start" style='font-size:33.3px'>MM-P1</text>
<line x1="1416.7" y1="899.1" x2="1460.6" y2="899.1" stroke="#000" stroke-width="3.8"/>
<rect x="1428.35" y="888.8" width="20.6" height="20.6" fill="#000"/>
<text transform="translate(1485.1 911.3)" text-anchor="start" style='font-size:33.3px'>LL-P2b</text>
<line x1="1416.7" y1="954.5" x2="1460.6" y2="954.5" stroke="#000" stroke-width="3.8"/>
<rect x="1428.25" y="944.1" width="20.8" height="20.8" fill="none" stroke="#000" stroke-width="3.6"/>
<text transform="translate(1485.1 966.7)" text-anchor="start" style='font-size:33.3px'>LM-P2a</text>
<line x1="1416.7" y1="1009.9" x2="1460.6" y2="1009.9" stroke="#000" stroke-width="3.8"/>
<ellipse cx="1438.65" cy="1009.9" rx="10.1" ry="10.1" fill="none" stroke="#000" stroke-width="3.5"/>
<text transform="translate(1485.1 1022.1)" text-anchor="start" style='font-size:33.3px'>LM-P2b</text>
</g>
<g id="panel-e">
<line x1="195.95" y1="1578.75" x2="195.95" y2="1601.44" stroke="#000" stroke-width="4.4"/>
<line x1="182.05" y1="1578.75" x2="209.85" y2="1578.75" stroke="#000" stroke-width="4.4"/>
<rect x="167.95" y="1600.44" width="56" height="367.86" fill="#000"/>
<line x1="280.25" y1="1708.02" x2="280.25" y2="1730.71" stroke="#000" stroke-width="4.4"/>
<line x1="266.35" y1="1708.02" x2="294.15" y2="1708.02" stroke="#000" stroke-width="4.4"/>
<path d="M255.35 1968.3 V1732.81 H305.15 V1968.3" fill="none" stroke="#a1a1a1" stroke-width="6.2"/>
<line x1="421.75" y1="1708.35" x2="421.75" y2="1731.04" stroke="#000" stroke-width="4.4"/>
<line x1="407.85" y1="1708.35" x2="435.65" y2="1708.35" stroke="#000" stroke-width="4.4"/>
<rect x="393.75" y="1730.04" width="56" height="238.26" fill="#000"/>
<line x1="506.05" y1="1734.59" x2="506.05" y2="1741.55" stroke="#000" stroke-width="4.4"/>
<line x1="492.15" y1="1734.59" x2="519.95" y2="1734.59" stroke="#000" stroke-width="4.4"/>
<path d="M481.15 1968.3 V1743.65 H530.95 V1968.3" fill="none" stroke="#a1a1a1" stroke-width="6.2"/>
<rect x="619.25" y="1730.04" width="56" height="238.26" fill="#000"/>
<line x1="731.55" y1="1702.71" x2="731.55" y2="1709.67" stroke="#000" stroke-width="4.4"/>
<line x1="717.65" y1="1702.71" x2="745.45" y2="1702.71" stroke="#000" stroke-width="4.4"/>
<path d="M706.65 1968.3 V1711.77 H756.45 V1968.3" fill="none" stroke="#a1a1a1" stroke-width="6.2"/>
<line x1="139.6" y1="1532.25" x2="139.6" y2="1968.3" stroke="#000" stroke-width="4.5"/>
<line x1="127.6" y1="1968.3" x2="791.1" y2="1968.3" stroke="#000" stroke-width="4.5"/>
<text transform="translate(122.6 1983.3)" text-anchor="end" style='font-size:42px;font-weight:bold'>0</text>
<line x1="127.6" y1="1859.85" x2="139.6" y2="1859.85" stroke="#000" stroke-width="4.5"/>
<text transform="translate(122.6 1874.85)" text-anchor="end" style='font-size:42px;font-weight:bold'>1</text>
<line x1="127.6" y1="1751.4" x2="139.6" y2="1751.4" stroke="#000" stroke-width="4.5"/>
<text transform="translate(122.6 1766.4)" text-anchor="end" style='font-size:42px;font-weight:bold'>2</text>
<line x1="127.6" y1="1642.95" x2="139.6" y2="1642.95" stroke="#000" stroke-width="4.5"/>
<text transform="translate(122.6 1657.95)" text-anchor="end" style='font-size:42px;font-weight:bold'>3</text>
<line x1="127.6" y1="1534.5" x2="139.6" y2="1534.5" stroke="#000" stroke-width="4.5"/>
<text transform="translate(122.6 1549.5)" text-anchor="end" style='font-size:42px;font-weight:bold'>4</text>
<line x1="238.1" y1="1968.3" x2="238.1" y2="1980.3" stroke="#000" stroke-width="4.5"/>
<text transform="translate(251.7 2015.9) rotate(-45)" text-anchor="end" style='font-size:42px;font-weight:bold'>LL</text>
<line x1="463.9" y1="1968.3" x2="463.9" y2="1980.3" stroke="#000" stroke-width="4.5"/>
<text transform="translate(477.5 2015.9) rotate(-45)" text-anchor="end" style='font-size:42px;font-weight:bold'>LM</text>
<line x1="689.4" y1="1968.3" x2="689.4" y2="1980.3" stroke="#000" stroke-width="4.5"/>
<text transform="translate(703 2015.9) rotate(-45)" text-anchor="end" style='font-size:42px;font-weight:bold'>MM</text>
<text transform="translate(196 1565.7) scale(0.8600 1)" text-anchor="middle" style='font-size:35px;font-family:"Liberation Sans", "DejaVu Sans", sans-serif'>a</text>
<text transform="translate(280.5 1690.4)" text-anchor="middle" style='font-size:35px;font-family:"Liberation Sans", "DejaVu Sans", sans-serif'>bc</text>
<text transform="translate(420.6 1695.4)" text-anchor="middle" style='font-size:35px;font-family:"Liberation Sans", "DejaVu Sans", sans-serif'>bc</text>
<text transform="translate(505.7 1717.6)" text-anchor="middle" style='font-size:35px;font-family:"Liberation Sans", "DejaVu Sans", sans-serif'>b</text>
<text transform="translate(650.1 1715.8)" text-anchor="middle" style='font-size:35px;font-family:"Liberation Sans", "DejaVu Sans", sans-serif'>bc</text>
<text transform="translate(731 1687.6)" text-anchor="middle" style='font-size:35px;font-family:"Liberation Sans", "DejaVu Sans", sans-serif'>c</text>
<text transform="translate(443.1 1527.6) scale(1.0760 1)" text-anchor="middle" style='font-size:41.5px'>0.25 M Values</text>
<text transform="translate(69.1 1858.5) rotate(-90) scale(0.9615 1)" text-anchor="start" style='font-size:42.3px;font-weight:bold'>[GdnHCl]</text>
<text transform="translate(77.6 1676) rotate(-90)" text-anchor="start" style='font-size:29.3px;font-weight:bold'>1/2</text>
<rect x="648.1" y="1541.9" width="46.2" height="23" fill="#000"/>
<rect x="651.4" y="1603.6" width="39.6" height="16.8" fill="#fff" stroke="#a1a1a1" stroke-width="6.6"/>
<text transform="translate(719.7 1564.9)" text-anchor="start" style='font-size:35.5px'>P1</text>
<text transform="translate(719.7 1623.6)" text-anchor="start" style='font-size:35.5px'>P2</text>
</g>
<g id="panel-f">
<line x1="1054.05" y1="1623" x2="1054.05" y2="1634.75" stroke="#000" stroke-width="4.4"/>
<line x1="1040.15" y1="1623" x2="1067.95" y2="1623" stroke="#000" stroke-width="4.4"/>
<rect x="1026.2" y="1633.75" width="55.7" height="333.25" fill="#000"/>
<line x1="1137.85" y1="1698.25" x2="1137.85" y2="1720.75" stroke="#000" stroke-width="4.4"/>
<line x1="1123.95" y1="1698.25" x2="1151.75" y2="1698.25" stroke="#000" stroke-width="4.4"/>
<path d="M1113.1 1967 V1722.85 H1162.6 V1967" fill="none" stroke="#a1a1a1" stroke-width="6.2"/>
<line x1="1278" y1="1741.25" x2="1278" y2="1753" stroke="#000" stroke-width="4.4"/>
<line x1="1264.1" y1="1741.25" x2="1291.9" y2="1741.25" stroke="#000" stroke-width="4.4"/>
<rect x="1250.15" y="1752" width="55.7" height="215" fill="#000"/>
<path d="M1337.05 1967 V1776.6 H1386.55 V1967" fill="none" stroke="#a1a1a1" stroke-width="6.2"/>
<line x1="1501.45" y1="1730.5" x2="1501.45" y2="1742.25" stroke="#000" stroke-width="4.4"/>
<line x1="1487.55" y1="1730.5" x2="1515.35" y2="1730.5" stroke="#000" stroke-width="4.4"/>
<rect x="1473.6" y="1741.25" width="55.7" height="225.75" fill="#000"/>
<line x1="1585.25" y1="1734.26" x2="1585.25" y2="1742.25" stroke="#000" stroke-width="4.4"/>
<line x1="1571.35" y1="1734.26" x2="1599.15" y2="1734.26" stroke="#000" stroke-width="4.4"/>
<path d="M1560.5 1967 V1744.35 H1610 V1967" fill="none" stroke="#a1a1a1" stroke-width="6.2"/>
<line x1="997.8" y1="1534.75" x2="997.8" y2="1967" stroke="#000" stroke-width="4.5"/>
<line x1="985.8" y1="1967" x2="1646" y2="1967" stroke="#000" stroke-width="4.5"/>
<text transform="translate(980.8 1982)" text-anchor="end" style='font-size:42px;font-weight:bold'>0</text>
<line x1="985.8" y1="1859.5" x2="997.8" y2="1859.5" stroke="#000" stroke-width="4.5"/>
<text transform="translate(980.8 1874.5)" text-anchor="end" style='font-size:42px;font-weight:bold'>1</text>
<line x1="985.8" y1="1752" x2="997.8" y2="1752" stroke="#000" stroke-width="4.5"/>
<text transform="translate(980.8 1767)" text-anchor="end" style='font-size:42px;font-weight:bold'>2</text>
<line x1="985.8" y1="1644.5" x2="997.8" y2="1644.5" stroke="#000" stroke-width="4.5"/>
<text transform="translate(980.8 1659.5)" text-anchor="end" style='font-size:42px;font-weight:bold'>3</text>
<line x1="985.8" y1="1537" x2="997.8" y2="1537" stroke="#000" stroke-width="4.5"/>
<text transform="translate(980.8 1552)" text-anchor="end" style='font-size:42px;font-weight:bold'>4</text>
<line x1="1095.95" y1="1967" x2="1095.95" y2="1979" stroke="#000" stroke-width="4.5"/>
<text transform="translate(1109.55 2014.6) rotate(-45)" text-anchor="end" style='font-size:42px;font-weight:bold'>LL</text>
<line x1="1319.9" y1="1967" x2="1319.9" y2="1979" stroke="#000" stroke-width="4.5"/>
<text transform="translate(1333.5 2014.6) rotate(-45)" text-anchor="end" style='font-size:42px;font-weight:bold'>LM</text>
<line x1="1543.35" y1="1967" x2="1543.35" y2="1979" stroke="#000" stroke-width="4.5"/>
<text transform="translate(1556.95 2014.6) rotate(-45)" text-anchor="end" style='font-size:42px;font-weight:bold'>MM</text>
<text transform="translate(1053.8 1608)" text-anchor="middle" style='font-size:35px;font-family:"Liberation Sans", "DejaVu Sans", sans-serif'>e</text>
<text transform="translate(1140.7 1683.1)" text-anchor="middle" style='font-size:35px;font-family:"Liberation Sans", "DejaVu Sans", sans-serif'>fg</text>
<text transform="translate(1275.6 1726.3)" text-anchor="middle" style='font-size:35px;font-family:"Liberation Sans", "DejaVu Sans", sans-serif'>fg</text>
<text transform="translate(1360.6 1756.3)" text-anchor="middle" style='font-size:35px;font-family:"Liberation Sans", "DejaVu Sans", sans-serif'>g</text>
<text transform="translate(1500.9 1714.2)" text-anchor="middle" style='font-size:35px;font-family:"Liberation Sans", "DejaVu Sans", sans-serif'>fg</text>
<text transform="translate(1585.2 1717.5)" text-anchor="middle" style='font-size:35px;font-family:"Liberation Sans", "DejaVu Sans", sans-serif'>fg</text>
<text transform="translate(1272.9 1527.7) scale(1.0700 1)" text-anchor="middle" style='font-size:41.5px'>1.0 M Values</text>
<text transform="translate(928.1 1858.5) rotate(-90) scale(0.9580 1)" text-anchor="start" style='font-size:42.3px;font-weight:bold'>[GdnHCl]</text>
<text transform="translate(936.6 1677.8) rotate(-90)" text-anchor="start" style='font-size:29.3px;font-weight:bold'>1/2</text>
<rect x="1508.8" y="1554.6" width="46.2" height="23" fill="#000"/>
<rect x="1512.1" y="1616.4" width="39.6" height="16.8" fill="#fff" stroke="#a1a1a1" stroke-width="6.6"/>
<text transform="translate(1580.4 1577.6)" text-anchor="start" style='font-size:35.5px'>P1</text>
<text transform="translate(1580.4 1636.4)" text-anchor="start" style='font-size:35.5px'>P2</text>
</g>
<text transform="translate(-1.5 37.6) scale(0.8400 1)" text-anchor="start" style='font-size:49.5px;font-family:"Liberation Sans", "DejaVu Sans", sans-serif' stroke="#000" stroke-width="0.5">a</text>
<text transform="translate(842.5 36.9) scale(1.0600 1)" text-anchor="start" style='font-size:49.5px;font-family:"Liberation Sans", "DejaVu Sans", sans-serif' stroke="#000" stroke-width="0.5">b</text>
<text transform="translate(-1 739) scale(0.9000 1)" text-anchor="start" style='font-size:49.5px;font-family:"Liberation Sans", "DejaVu Sans", sans-serif' stroke="#000" stroke-width="0.5">c</text>
<text transform="translate(842.5 738.6) scale(1.0400 1)" text-anchor="start" style='font-size:49.5px;font-family:"Liberation Sans", "DejaVu Sans", sans-serif' stroke="#000" stroke-width="0.5">d</text>
<text transform="translate(4 1444.8) scale(0.9000 1)" text-anchor="start" style='font-size:49.5px;font-family:"Liberation Sans", "DejaVu Sans", sans-serif' stroke="#000" stroke-width="0.5">e</text>
<text transform="translate(862 1444.4) scale(1.2800 1)" text-anchor="start" style='font-size:49.5px;font-family:"Liberation Sans", "DejaVu Sans", sans-serif' stroke="#000" stroke-width="0.5">f</text>
</svg></body></html>
